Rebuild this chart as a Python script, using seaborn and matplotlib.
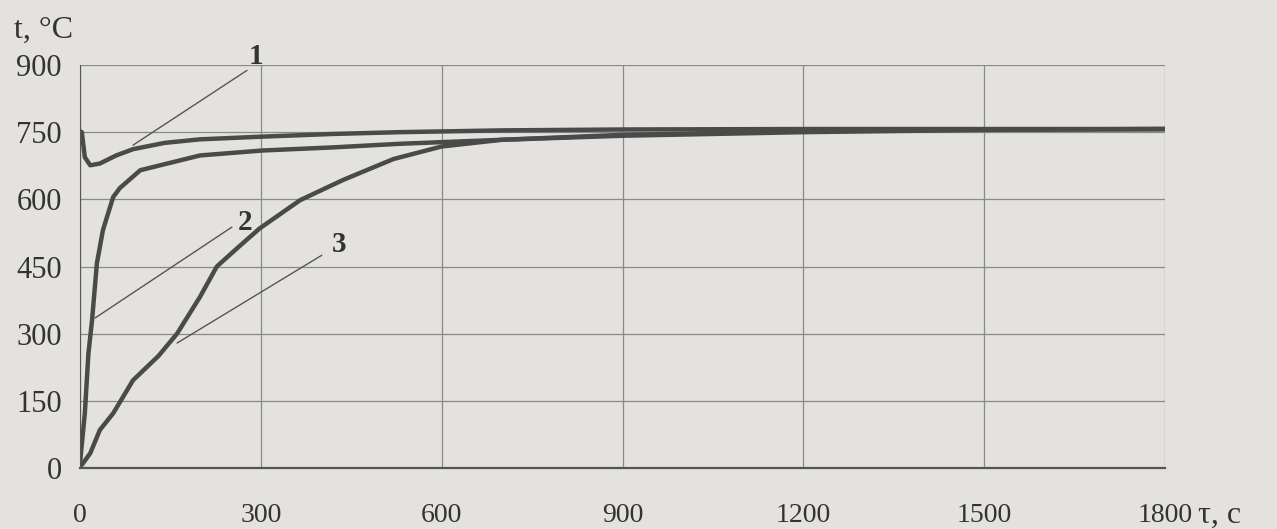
import numpy as np
import pandas as pd
import matplotlib
matplotlib.use("Agg")
import matplotlib.pyplot as plt
import seaborn as sns

# curve 1
t1 = [0, 3, 8, 17, 33, 60, 88, 140, 199, 302, 420, 530, 700, 900, 1200, 1500, 1800]
v1 = [752, 750, 694, 676, 680, 698, 712, 726, 734, 740, 746, 750, 754, 756, 757, 757, 757]
# curve 2
t2 = [0, 8, 14, 20, 28, 38, 55, 66, 100, 199, 302, 420, 530, 700, 900, 1200, 1500, 1800]
v2 = [11, 122, 256, 330, 457, 531, 605, 625, 665, 698, 709, 716, 724, 733, 742, 750, 755, 757]
# curve 3
t3 = [3, 17, 33, 55, 88, 130, 161, 199, 227, 260, 298, 365, 436, 520, 600, 700, 900, 1200, 1500, 1800]
v3 = [7, 33, 85, 122, 196, 250, 300, 382, 450, 490, 535, 598, 643, 690, 718, 733, 744, 752, 756, 757]

labels = ["1", "2", "3"]
# leader lines: (start t, start v, end t, end v), label position
leaders = [(88, 721, 277, 888), (25, 335, 252, 538), (161, 279, 401, 475)]
label_pos = [(292, 918), (274, 548), (430, 500)]

df = pd.concat([
    pd.DataFrame({"t": t1, "v": v1, "curve": "1"}),
    pd.DataFrame({"t": t2, "v": v2, "curve": "2"}),
    pd.DataFrame({"t": t3, "v": v3, "curve": "3"}),
])

sns.set_style("white")
plt.rcParams['font.family'] = ['Liberation Serif', 'DejaVu Serif']

bg = "#e4e2de"
fig = plt.figure(figsize=(12.77, 5.29), dpi=100, facecolor=bg)
ax = fig.add_axes([80 / 1277, 61 / 529, 1085 / 1277, 403 / 529])
ax.set_facecolor(bg)

sns.lineplot(data=df, x="t", y="v", hue="curve", palette=["#4a4a4a"] * 3,
             linewidth=3.2, legend=False, ax=ax, sort=False)

for (x0, y0, x1, y1), (lx, ly), lab in zip(leaders, label_pos, labels):
    ax.plot([x0, x1], [y0, y1], color="#555555", lw=1.0)
    ax.text(lx, ly, lab, fontsize=21, fontweight="bold", color="#333333",
            ha="center", va="center")

ax.set_xlim(0, 1800)
ax.set_ylim(0, 900)
ax.set_xticks(np.arange(0, 1801, 300))
ax.set_yticks(np.arange(0, 901, 150))
ax.grid(True, color="#8a8a8a", lw=0.9)
for s in ["top", "right"]:
    ax.spines[s].set_visible(False)
ax.spines["left"].set_color("#555555")
ax.spines["bottom"].set_color("#555555")
ax.spines["bottom"].set_linewidth(1.6)
ax.tick_params(axis="x", length=8, width=0.9, color="#777777", pad=17,
               labelsize=20, labelcolor="#333333")
ax.tick_params(axis="y", length=7, width=0.9, color="#777777", pad=6,
               labelsize=22, labelcolor="#333333")
ax.set_xlabel("")
ax.set_ylabel("")
fig.text(14 / 1277, 1 - 30 / 529, "t, °C", fontsize=23, color="#333333",
         va="center", ha="left")
fig.text(1198 / 1277, 1 - 515 / 529, "τ, c", fontsize=23, color="#333333",
         va="center", ha="left")

fig.savefig("out.png", dpi=100, facecolor=bg)
